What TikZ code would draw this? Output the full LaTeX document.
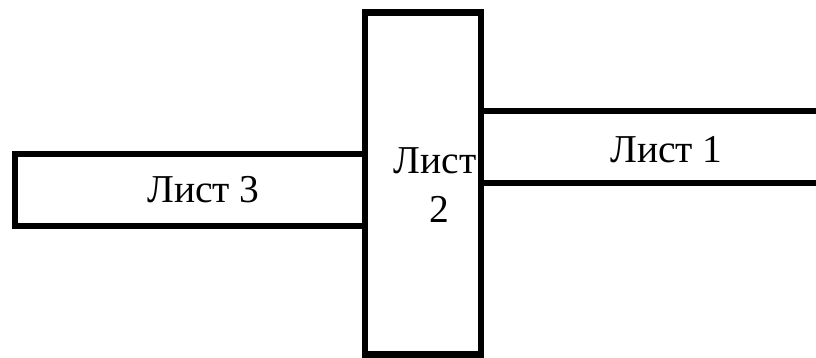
\documentclass[tikz,border=0pt]{standalone}
\usepackage{fontspec}
\setmainfont{Liberation Serif}
\begin{document}
\begin{tikzpicture}[x=1pt,y=-1pt,
  sheet/.style={draw=black,line width=6.5pt,fill=white,inner sep=0pt,outer sep=0pt,rectangle},
  lbl/.style={font=\fontsize{39.5}{46}\selectfont,inner sep=0pt,anchor=base}]
\useasboundingbox (0,0) rectangle (816,357);
\clip (0,0) rectangle (816,357);
\node[sheet,minimum width=419pt,minimum height=72pt] (s1) at (690.5,147) {};
\node[sheet,minimum width=350pt,minimum height=72pt] (s3) at (190,190) {};
\node[sheet,minimum width=116pt,minimum height=342pt] (s2) at (423,183.5) {};
\node[lbl] (t1) at (666.5,162) {Лист 1};
\node[lbl] (t3) at (203.5,202) {Лист 3};
\node[lbl] (t2a) at (435,173) {Лист};
\node[lbl] (t2b) at (439,222) {2};
\end{tikzpicture}
\end{document}
